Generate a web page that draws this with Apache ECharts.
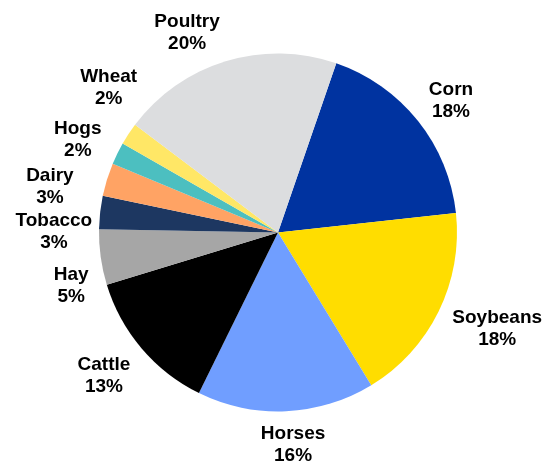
<!DOCTYPE html>
<html>
<head>
<meta charset="utf-8">
<script src="https://cdn.jsdelivr.net/npm/echarts@6/dist/echarts.min.js"></script>
<style>
  html, body { margin: 0; padding: 0; background: #ffffff; }
  #chart { width: 547px; height: 463px; }
</style>
</head>
<body>
<div id="chart"></div>
<script>
// Share of farm cash receipts by commodity (percent)
const categories = ['Corn', 'Soybeans', 'Horses', 'Cattle', 'Hay', 'Tobacco', 'Dairy', 'Hogs', 'Wheat', 'Poultry'];
const shares = [18, 18, 16, 13, 5, 3, 3, 2, 2, 20];
const sliceColors = ['#0033A0', '#FFDD00', '#709EFF', '#000000', '#A6A6A6', '#1D3761', '#FFA364', '#4CBFC0', '#FFE766', '#DCDDDF'];

// Per-label nudges (px) away from the plain radial spot, so crowded labels stay readable
const labelNudge = [[-0.5, 6.5], [20, -1.5], [5, -9], [-5, -0.5], [13, 22], [-3.5, 24], [-16, 20], [-1, 5], [16, -22.5], [-26, 13]];

const START_ANGLE = 71;       // degrees, ECharts convention (counter-clockwise from 3 o'clock)
const RADIUS = 179;
const LABEL_RADIUS = 222;
const CENTER = ['50.82%', '50.2%'];

const chart = echarts.init(document.getElementById('chart'), null, { renderer: 'canvas' });

const total = shares.reduce((a, b) => a + b, 0);
const midAngles = [];
let acc = 0;
shares.forEach(v => {
  const mid = START_ANGLE - (acc + v / 2) / total * 360;   // clockwise sweep
  midAngles.push(mid * Math.PI / 180);
  acc += v;
});

chart.setOption({
  animation: false,
  backgroundColor: '#ffffff',
  series: [{
    type: 'pie',
    center: CENTER,
    radius: RADIUS,
    startAngle: START_ANGLE,
    clockwise: true,
    avoidLabelOverlap: false,
    data: categories.map((name, i) => ({
      name: name,
      value: shares[i],
      itemStyle: { color: sliceColors[i] }
    })),
    itemStyle: { borderWidth: 0 },
    label: {
      show: true,
      position: 'outside',
      formatter: p => p.name + '\n' + p.value + '%',
      fontFamily: '"Liberation Sans", Arial, sans-serif',
      fontWeight: 'bold',
      fontSize: 19,
      lineHeight: 22,
      color: '#000000',
      align: 'center'
    },
    labelLine: { show: false },
    labelLayout: function (params) {
      const i = params.dataIndex;
      const w = chart.getWidth(), h = chart.getHeight();
      const cx = parseFloat(CENTER[0]) / 100 * w;
      const cy = parseFloat(CENTER[1]) / 100 * h;
      const a = midAngles[i];
      return {
        x: cx + Math.cos(a) * LABEL_RADIUS + labelNudge[i][0],
        y: cy - Math.sin(a) * LABEL_RADIUS + labelNudge[i][1],
        align: 'center',
        verticalAlign: 'middle'
      };
    }
  }]
});
</script>
</body>
</html>
